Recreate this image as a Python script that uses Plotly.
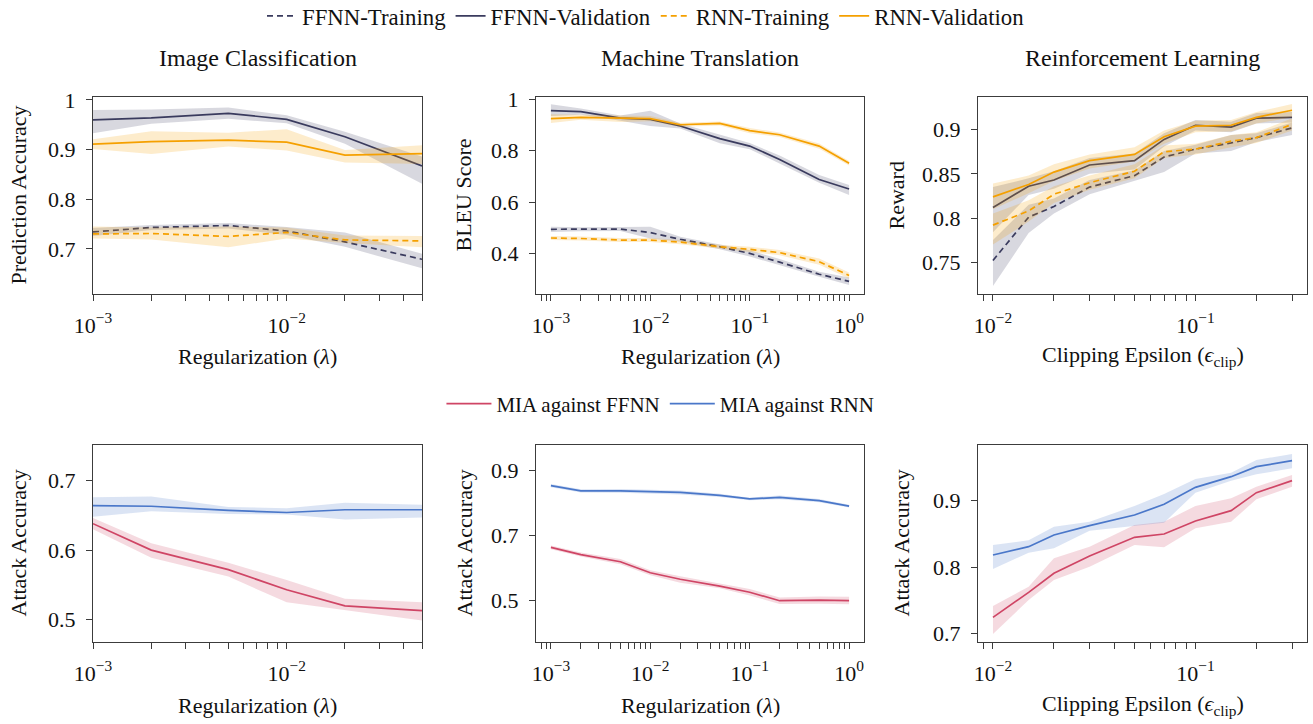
import math
import plotly.graph_objects as go

# ---------------- data ----------------
x_ic = [0.001, 0.002, 0.005, 0.01, 0.02, 0.05]
x_mt = [0.001, 0.002, 0.005, 0.01, 0.02, 0.05, 0.1, 0.2, 0.5, 1.0]
x_rl = [0.01, 0.015, 0.02, 0.03, 0.05, 0.07, 0.1, 0.15, 0.2, 0.3]

# Image classification
ic_ffnn_train = [0.734, 0.743, 0.747, 0.736, 0.714, 0.679]
ic_ffnn_train_lo = [0.726, 0.738, 0.741, 0.728, 0.704, 0.661]
ic_ffnn_train_hi = [0.742, 0.748, 0.752, 0.744, 0.733, 0.690]
ic_ffnn_val = [0.960, 0.964, 0.973, 0.961, 0.926, 0.867]
ic_ffnn_val_lo = [0.933, 0.952, 0.962, 0.953, 0.912, 0.831]
ic_ffnn_val_hi = [0.980, 0.981, 0.985, 0.969, 0.936, 0.886]
ic_rnn_train = [0.730, 0.731, 0.725, 0.733, 0.718, 0.716]
ic_rnn_train_lo = [0.721, 0.719, 0.703, 0.721, 0.712, 0.703]
ic_rnn_train_hi = [0.745, 0.743, 0.745, 0.743, 0.727, 0.726]
ic_rnn_val = [0.911, 0.916, 0.919, 0.915, 0.889, 0.892]
ic_rnn_val_lo = [0.901, 0.891, 0.906, 0.898, 0.874, 0.871]
ic_rnn_val_hi = [0.921, 0.937, 0.934, 0.941, 0.899, 0.909]

# Machine translation
mt_ffnn_val = [0.956, 0.952, 0.927, 0.922, 0.896, 0.847, 0.818, 0.766, 0.688, 0.651]
mt_ffnn_val_lo = [0.935, 0.940, 0.917, 0.896, 0.886, 0.829, 0.806, 0.751, 0.675, 0.627]
mt_ffnn_val_hi = [0.981, 0.964, 0.937, 0.955, 0.906, 0.864, 0.830, 0.781, 0.705, 0.666]
mt_rnn_val = [0.925, 0.930, 0.927, 0.925, 0.901, 0.906, 0.878, 0.862, 0.818, 0.751]
mt_rnn_val_lo = [0.908, 0.920, 0.912, 0.915, 0.893, 0.898, 0.868, 0.853, 0.808, 0.742]
mt_rnn_val_hi = [0.942, 0.940, 0.937, 0.935, 0.909, 0.914, 0.888, 0.871, 0.828, 0.760]
mt_ffnn_train = [0.494, 0.494, 0.495, 0.481, 0.455, 0.426, 0.400, 0.366, 0.319, 0.291]
mt_ffnn_train_lo = [0.483, 0.486, 0.487, 0.458, 0.445, 0.416, 0.388, 0.354, 0.309, 0.277]
mt_ffnn_train_hi = [0.504, 0.502, 0.503, 0.504, 0.465, 0.436, 0.412, 0.378, 0.329, 0.306]
mt_rnn_train = [0.460, 0.458, 0.452, 0.452, 0.444, 0.426, 0.416, 0.403, 0.368, 0.314]
mt_rnn_train_lo = [0.452, 0.450, 0.444, 0.444, 0.436, 0.418, 0.406, 0.393, 0.356, 0.302]
mt_rnn_train_hi = [0.468, 0.466, 0.460, 0.460, 0.452, 0.434, 0.426, 0.413, 0.380, 0.326]

# Reinforcement learning
rl_rnn_val = [0.824, 0.838, 0.852, 0.865, 0.872, 0.892, 0.904, 0.905, 0.914, 0.922]
rl_rnn_val_lo = [0.810, 0.828, 0.842, 0.856, 0.864, 0.884, 0.897, 0.898, 0.907, 0.914]
rl_rnn_val_hi = [0.839, 0.848, 0.861, 0.872, 0.880, 0.899, 0.910, 0.911, 0.920, 0.929]
rl_ffnn_val = [0.812, 0.836, 0.843, 0.860, 0.865, 0.889, 0.905, 0.903, 0.913, 0.914]
rl_ffnn_val_lo = [0.784, 0.826, 0.833, 0.850, 0.855, 0.881, 0.899, 0.897, 0.907, 0.908]
rl_ffnn_val_hi = [0.835, 0.845, 0.853, 0.868, 0.873, 0.896, 0.911, 0.909, 0.919, 0.920]
rl_rnn_train = [0.792, 0.808, 0.827, 0.840, 0.853, 0.875, 0.878, 0.887, 0.891, 0.906]
rl_rnn_train_lo = [0.770, 0.796, 0.817, 0.832, 0.845, 0.868, 0.872, 0.880, 0.885, 0.899]
rl_rnn_train_hi = [0.805, 0.820, 0.836, 0.848, 0.861, 0.882, 0.884, 0.894, 0.897, 0.913]
rl_ffnn_train = [0.752, 0.801, 0.813, 0.835, 0.848, 0.869, 0.878, 0.885, 0.891, 0.902]
rl_ffnn_train_lo = [0.723, 0.783, 0.805, 0.827, 0.842, 0.852, 0.873, 0.876, 0.886, 0.894]
rl_ffnn_train_hi = [0.775, 0.815, 0.822, 0.843, 0.854, 0.876, 0.883, 0.894, 0.896, 0.908]

# MIA
mia_ic_rnn = [0.664, 0.663, 0.657, 0.654, 0.658, 0.658]
mia_ic_rnn_lo = [0.648, 0.656, 0.652, 0.651, 0.644, 0.647]
mia_ic_rnn_hi = [0.676, 0.677, 0.662, 0.660, 0.668, 0.665]
mia_ic_ffnn = [0.638, 0.600, 0.572, 0.543, 0.520, 0.513]
mia_ic_ffnn_lo = [0.630, 0.589, 0.562, 0.525, 0.514, 0.499]
mia_ic_ffnn_hi = [0.646, 0.610, 0.582, 0.557, 0.530, 0.525]

mia_mt_rnn = [0.854, 0.838, 0.838, 0.836, 0.833, 0.824, 0.813, 0.818, 0.808, 0.791]
mia_mt_rnn_lo = [0.849, 0.833, 0.832, 0.830, 0.827, 0.819, 0.809, 0.812, 0.803, 0.787]
mia_mt_rnn_hi = [0.859, 0.843, 0.844, 0.842, 0.839, 0.829, 0.817, 0.824, 0.813, 0.795]
mia_mt_ffnn = [0.664, 0.642, 0.620, 0.586, 0.566, 0.545, 0.526, 0.500, 0.502, 0.500]
mia_mt_ffnn_lo = [0.658, 0.636, 0.612, 0.578, 0.555, 0.538, 0.516, 0.490, 0.491, 0.489]
mia_mt_ffnn_hi = [0.670, 0.648, 0.628, 0.594, 0.575, 0.552, 0.536, 0.510, 0.513, 0.512]

mia_rl_rnn = [0.818, 0.8305, 0.848, 0.862, 0.878, 0.894, 0.9195, 0.9355, 0.9505, 0.9595]
mia_rl_rnn_lo = [0.797, 0.8215, 0.828, 0.8545, 0.8615, 0.8665, 0.9115, 0.9295, 0.939, 0.948]
mia_rl_rnn_hi = [0.833, 0.840, 0.8605, 0.868, 0.8915, 0.9095, 0.932, 0.9415, 0.9605, 0.9695]
mia_rl_ffnn = [0.7245, 0.762, 0.7905, 0.8165, 0.8445, 0.8495, 0.869, 0.8845, 0.9115, 0.9295]
mia_rl_ffnn_lo = [0.6995, 0.7505, 0.7805, 0.8005, 0.833, 0.8295, 0.858, 0.868, 0.9015, 0.9205]
mia_rl_ffnn_hi = [0.7415, 0.7705, 0.813, 0.8305, 0.863, 0.868, 0.8915, 0.903, 0.9205, 0.938]

# tick labels
ic_xmajor = [0.001, 0.01]
mt_xmajor = [0.001, 0.01, 0.1, 1.0]
rl_xmajor = [0.01, 0.1]
ic_y_ticks = [0.7, 0.8, 0.9, 1.0]
ic_y_labels = ["0.7", "0.8", "0.9", "1"]
mt_y_ticks = [0.4, 0.6, 0.8, 1.0]
mt_y_labels = ["0.4", "0.6", "0.8", "1"]
rl_y_ticks = [0.75, 0.8, 0.85, 0.9]
rl_y_labels = ["0.75", "0.8", "0.85", "0.9"]
mia_ic_y_ticks = [0.5, 0.6, 0.7]
mia_ic_y_labels = ["0.5", "0.6", "0.7"]
mia_mt_y_ticks = [0.5, 0.7, 0.9]
mia_mt_y_labels = ["0.5", "0.7", "0.9"]
mia_rl_y_ticks = [0.7, 0.8, 0.9]
mia_rl_y_labels = ["0.7", "0.8", "0.9"]

titles = ["Image Classification", "Machine Translation", "Reinforcement Learning"]

# ---------------- style ----------------
FONT = "Liberation Serif"
NAVY = "#3a3b5e"
ORANGE = "#f5a000"
RED = "#cf4565"
BLUE = "#4a77c9"
AXC = "#3c3c3c"
W, H = 1313, 724


def rgba(hex_c, a):
    h = hex_c.lstrip("#")
    return "rgba(%d,%d,%d,%s)" % (int(h[0:2], 16), int(h[2:4], 16), int(h[4:6], 16), a)


fig = go.Figure()

# panel boxes in pixels (left, right, top, bottom)
cols_px = [(93, 422), (536, 864), (978, 1307)]
rows_px = [(97, 294), (445, 642)]


def xdom(c):
    return [cols_px[c][0] / W, cols_px[c][1] / W]


def ydom(r):
    return [1 - rows_px[r][1] / H, 1 - rows_px[r][0] / H]


def log_ticks(majors, lo, hi):
    major_vals, major_text, minor_vals = [], [], []
    e0 = int(math.floor(lo)) - 1
    e1 = int(math.ceil(hi)) + 1
    for e in range(e0, e1):
        for m in range(1, 10):
            v = m * 10 ** e
            lv = math.log10(v)
            if lo - 1e-9 <= lv <= hi + 1e-9:
                if m == 1:
                    major_vals.append(v)
                    ex = str(e).replace("-", "\u2212")
                    major_text.append("10<sup>%s</sup>" % ex)
                else:
                    minor_vals.append(v)
    return major_vals, major_text, minor_vals


xranges = [[-3, math.log10(0.05)], [-3.15, 0.15], [-2.074, -0.449]]
majors = [ic_xmajor, mt_xmajor, rl_xmajor]
yranges = [[[0.609, 1.006], [0.242, 1.009], [0.714, 0.937]],
           [[0.468, 0.751], [0.373, 0.979], [0.6875, 0.983]]]
yticks = [[(ic_y_ticks, ic_y_labels), (mt_y_ticks, mt_y_labels), (rl_y_ticks, rl_y_labels)],
          [(mia_ic_y_ticks, mia_ic_y_labels), (mia_mt_y_ticks, mia_mt_y_labels), (mia_rl_y_ticks, mia_rl_y_labels)]]

layout_axes = {}
for r in range(2):
    for c in range(3):
        idx = r * 3 + c + 1
        xa = "xaxis" if idx == 1 else "xaxis%d" % idx
        ya = "yaxis" if idx == 1 else "yaxis%d" % idx
        tv, tt, mv = log_ticks(majors[c], xranges[c][0], xranges[c][1])
        layout_axes[xa] = dict(
            domain=xdom(c), anchor="y" if idx == 1 else "y%d" % idx,
            type="log", range=xranges[c], tickmode="array", tickvals=tv, ticktext=tt,
            ticks="outside", ticklen=6, tickwidth=1, tickcolor=AXC,
            minor=dict(tickmode="array", tickvals=mv, ticks="outside", ticklen=6,
                       tickwidth=1, tickcolor=AXC, showgrid=False),
            showline=True, linecolor=AXC, linewidth=1.2, mirror=True,
            showgrid=False, zeroline=False, ticklabelstandoff=5, automargin=False,
            tickfont=dict(family=FONT, size=22, color="#111"),
        )
        yv, yt = yticks[r][c]
        layout_axes[ya] = dict(
            domain=ydom(r), anchor="x" if idx == 1 else "x%d" % idx,
            range=yranges[r][c], tickmode="array", tickvals=yv, ticktext=yt,
            ticks="outside", ticklen=6, tickwidth=1, tickcolor=AXC,
            showline=True, linecolor=AXC, linewidth=1.2, mirror=True,
            showgrid=False, zeroline=False, ticklabelstandoff=6, automargin=False,
            tickfont=dict(family=FONT, size=22, color="#111"),
        )


def add_series(x, y, lo, hi, color, dash, name, idx, legend, showleg):
    xs = "x" if idx == 1 else "x%d" % idx
    ys = "y" if idx == 1 else "y%d" % idx
    fig.add_trace(go.Scatter(
        x=list(x) + list(x)[::-1], y=list(hi) + list(lo)[::-1],
        fill="toself", fillcolor=rgba(color, 0.2), line=dict(width=0),
        mode="lines", hoverinfo="skip", showlegend=False, xaxis=xs, yaxis=ys))
    fig.add_trace(go.Scatter(
        x=x, y=y, mode="lines", name=name,
        line=dict(color=color, width=1.7, dash=dash),
        showlegend=showleg, legend=legend, xaxis=xs, yaxis=ys))


DASH = "6px,4px"
top_sets = [
    (x_ic, [(ic_ffnn_train, ic_ffnn_train_lo, ic_ffnn_train_hi), (ic_ffnn_val, ic_ffnn_val_lo, ic_ffnn_val_hi),
            (ic_rnn_train, ic_rnn_train_lo, ic_rnn_train_hi), (ic_rnn_val, ic_rnn_val_lo, ic_rnn_val_hi)]),
    (x_mt, [(mt_ffnn_train, mt_ffnn_train_lo, mt_ffnn_train_hi), (mt_ffnn_val, mt_ffnn_val_lo, mt_ffnn_val_hi),
            (mt_rnn_train, mt_rnn_train_lo, mt_rnn_train_hi), (mt_rnn_val, mt_rnn_val_lo, mt_rnn_val_hi)]),
    (x_rl, [(rl_ffnn_train, rl_ffnn_train_lo, rl_ffnn_train_hi), (rl_ffnn_val, rl_ffnn_val_lo, rl_ffnn_val_hi),
            (rl_rnn_train, rl_rnn_train_lo, rl_rnn_train_hi), (rl_rnn_val, rl_rnn_val_lo, rl_rnn_val_hi)]),
]
top_styles = [(NAVY, DASH, "FFNN-Training"), (NAVY, "solid", "FFNN-Validation"),
              (ORANGE, DASH, "RNN-Training"), (ORANGE, "solid", "RNN-Validation")]
for c, (xv, series) in enumerate(top_sets):
    for (y, lo, hi), (col, dsh, nm) in zip(series, top_styles):
        add_series(xv, y, lo, hi, col, dsh, nm, c + 1, "legend", c == 0)

bot_sets = [
    (x_ic, [(mia_ic_ffnn, mia_ic_ffnn_lo, mia_ic_ffnn_hi), (mia_ic_rnn, mia_ic_rnn_lo, mia_ic_rnn_hi)]),
    (x_mt, [(mia_mt_ffnn, mia_mt_ffnn_lo, mia_mt_ffnn_hi), (mia_mt_rnn, mia_mt_rnn_lo, mia_mt_rnn_hi)]),
    (x_rl, [(mia_rl_ffnn, mia_rl_ffnn_lo, mia_rl_ffnn_hi), (mia_rl_rnn, mia_rl_rnn_lo, mia_rl_rnn_hi)]),
]
bot_styles = [(RED, "solid", "MIA against FFNN"), (BLUE, "solid", "MIA against RNN")]
for c, (xv, series) in enumerate(bot_sets):
    for (y, lo, hi), (col, dsh, nm) in zip(series, bot_styles):
        add_series(xv, y, lo, hi, col, dsh, nm, c + 4, "legend2", c == 0)

# ---------------- annotations ----------------
ann = []
for c in range(3):
    cx = (cols_px[c][0] + cols_px[c][1]) / 2 / W
    ann.append(dict(text=titles[c], x=cx, y=1 - 58 / H, xref="paper", yref="paper",
                    xanchor="center", yanchor="middle", showarrow=False,
                    font=dict(family=FONT, size=24, color="#111")))

xlabels = ["Regularization (<i>λ</i>)", "Regularization (<i>λ</i>)", "Clipping Epsilon (<i>ϵ</i><sub>clip</sub>)"]
for r, yc in enumerate([356, 705]):
    for c in range(3):
        cx = (cols_px[c][0] + cols_px[c][1]) / 2 / W
        ann.append(dict(text=xlabels[c], x=cx, y=1 - yc / H, xref="paper", yref="paper",
                        xanchor="center", yanchor="middle", showarrow=False,
                        font=dict(family=FONT, size=22, color="#111")))

ylabels = [["Prediction Accuracy", "BLEU Score", "Reward"],
           ["Attack Accuracy", "Attack Accuracy", "Attack Accuracy"]]
ylab_x = [[18, 463, 896], [18, 464, 901]]
for r in range(2):
    cy = 1 - (rows_px[r][0] + rows_px[r][1]) / 2 / H
    for c in range(3):
        ann.append(dict(text=ylabels[r][c], x=ylab_x[r][c] / W, y=cy, xref="paper", yref="paper",
                        xanchor="center", yanchor="middle", textangle=-90, showarrow=False,
                        font=dict(family=FONT, size=22, color="#111")))

fig.update_layout(
    width=W, height=H, margin=dict(l=0, r=0, t=0, b=0, autoexpand=False),
    paper_bgcolor="white", plot_bgcolor="white",
    font=dict(family=FONT, size=22, color="#111"),
    annotations=ann,
    legend=dict(orientation="h", x=0.492, y=1 - 16 / H, xanchor="center", yanchor="middle",
                font=dict(family=FONT, size=22.8, color="#111"), itemwidth=30,
                bgcolor="rgba(0,0,0,0)"),
    legend2=dict(orientation="h", x=0.503, y=1 - 404 / H, xanchor="center", yanchor="middle",
                 font=dict(family=FONT, size=21, color="#111"), itemwidth=45,
                 bgcolor="rgba(0,0,0,0)"),
    **layout_axes,
)

fig.write_html("out.html", config={"displayModeBar": False},
               post_script="document.body.style.margin='0px';")
